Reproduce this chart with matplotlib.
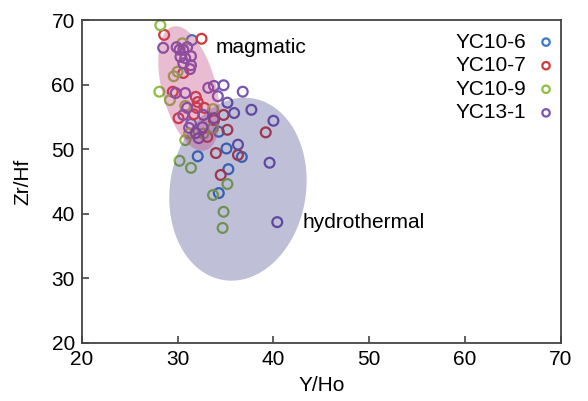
import numpy as np
import matplotlib
matplotlib.use("Agg")
import matplotlib.pyplot as plt
from matplotlib.patches import Polygon

plt.rcParams['font.family'] = ['Liberation Sans', 'DejaVu Sans']

# Y/Ho, Zr/Hf per sample
yc106_x = [31.5, 34.3, 35.1, 36.7, 35.3, 34.3, 32.1, 31.4]
yc106_y = [66.9, 52.7, 50.1, 48.8, 46.9, 43.2, 48.9, 53.9]

yc107_x = [28.6, 32.5, 30.6, 29.5, 31.9, 32.1, 32.0, 32.8, 30.1, 31.7,
           33.8, 34.8, 35.2, 39.2, 33.1, 34.0, 36.3, 34.5]
yc107_y = [67.7, 67.1, 61.8, 58.9, 58.1, 57.3, 56.4, 56.4, 54.8, 55.4,
           54.5, 55.3, 53.0, 52.6, 51.9, 49.4, 49.1, 46.0]

yc109_x = [28.2, 30.5, 29.6, 30.0, 28.1, 29.2, 30.8, 33.7, 33.7, 31.2,
           32.7, 30.8, 30.2, 31.4, 35.2, 33.7, 34.8, 34.7]
yc109_y = [69.2, 66.4, 61.3, 62.0, 58.9, 57.6, 56.7, 56.2, 53.3, 52.4,
           52.4, 51.4, 48.2, 47.1, 44.6, 42.9, 40.3, 37.8]

yc131_x = [28.5, 29.9, 30.2, 30.6, 31.0, 30.3, 30.8, 31.4, 30.6, 31.4,
           31.3, 29.8, 30.8, 33.2, 33.8, 34.8, 34.2, 36.8, 35.2, 35.9,
           37.7, 40.0, 36.3, 39.6, 40.4, 31.0, 30.6, 32.7, 33.8, 31.2,
           32.6, 31.9, 32.2]
yc131_y = [65.7, 65.8, 65.4, 65.4, 65.8, 64.3, 64.1, 64.4, 63.3, 63.0,
           62.4, 58.7, 58.7, 59.5, 59.8, 59.9, 58.2, 58.9, 57.2, 55.6,
           56.1, 54.4, 50.7, 47.9, 38.7, 56.4, 55.3, 55.3, 54.8, 53.3,
           53.4, 52.5, 51.7]

fig = plt.figure(figsize=(5.88, 4.01), dpi=100)
ax = fig.add_axes([0.139, 0.145, 0.815, 0.805])

series = [
    ("YC10-6", yc106_x, yc106_y, "#3a78c9"),
    ("YC10-7", yc107_x, yc107_y, "#cf3a3a"),
    ("YC10-9", yc109_x, yc109_y, "#8cbf42"),
    ("YC13-1", yc131_x, yc131_y, "#7755b0"),
]
for name, xs, ys, c in series:
    ax.scatter(xs, ys, s=50, facecolors="none", edgecolors=c,
               linewidths=1.6, label=name, zorder=2)

ax.set_xlim(20, 70)
ax.set_ylim(20, 70)


def ellipse(center, a, b, angle, color, alpha):
    # a, b in pixels, angle in degrees (display space)
    cx, cy = ax.transData.transform(center)
    t = np.linspace(0, 2 * np.pi, 200)
    th = np.radians(angle)
    px = cx + a * np.cos(t) * np.cos(th) - b * np.sin(t) * np.sin(th)
    py = cy + a * np.cos(t) * np.sin(th) + b * np.sin(t) * np.cos(th)
    pts = ax.transData.inverted().transform(np.column_stack([px, py]))
    ax.add_patch(Polygon(pts, closed=True, facecolor=color, edgecolor="none",
                         alpha=alpha, zorder=3))


ellipse((36.3, 43.8), 92, 68, 81, "#2d2d80", 0.3)
ellipse((31.2, 59.4), 64, 27, 104.7, "#c04080", 0.35)

fs = 15
ax.text(34.0, 65.7, "magmatic", fontsize=fs, va="center")
ax.text(43.0, 38.7, "hydrothermal", fontsize=fs, va="center")

ax.set_xticks([20, 30, 40, 50, 60, 70])
ax.set_yticks([20, 30, 40, 50, 60, 70])
ax.tick_params(direction="in", length=5, width=1.1, labelsize=fs,
               colors="#333333", labelcolor="black", pad=5)
for s in ax.spines.values():
    s.set_linewidth(1.3)
    s.set_color("#444444")

ax.set_xlabel("Y/Ho", fontsize=fs, labelpad=5)
ax.set_ylabel("Zr/Hf", fontsize=fs, labelpad=14)

ax.legend(loc="upper right", bbox_to_anchor=(1.008, 0.987), frameon=False,
          markerfirst=False, fontsize=fs, markerscale=0.75, labelspacing=0.22,
          handletextpad=0.45, handlelength=1.0, borderaxespad=0)

fig.savefig("out.png", dpi=100)
